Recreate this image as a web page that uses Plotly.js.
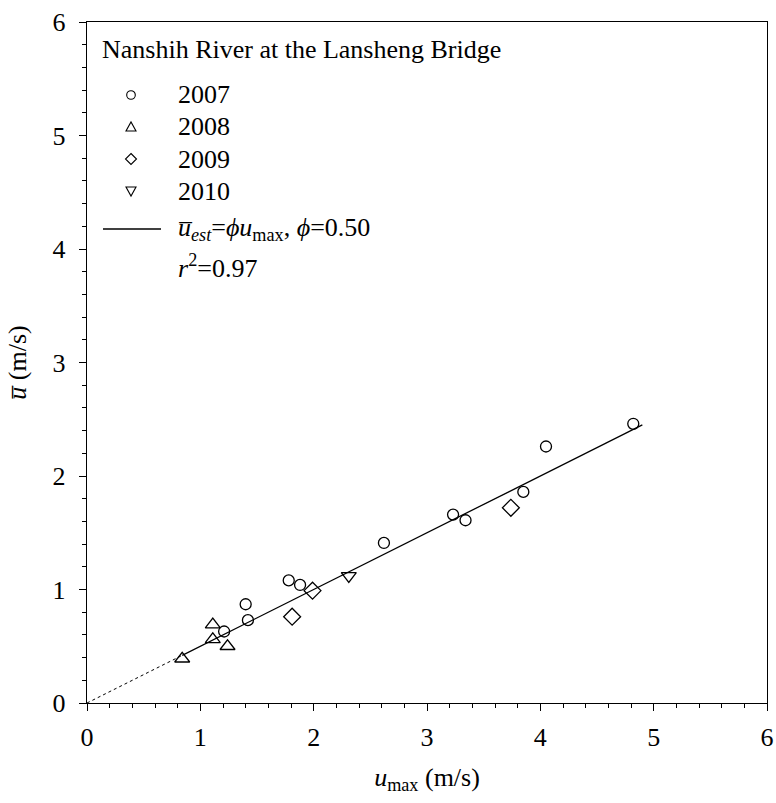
<!DOCTYPE html>
<html>
<head>
<meta charset="utf-8">
<script src="https://cdn.plot.ly/plotly-3.0.1.min.js"></script>
<style>html,body{margin:0;padding:0;background:#fff;}#chart{width:776px;height:803px;}</style>
</head>
<body>
<div id="chart"></div>
<script>
// ---- data ----
const series2007X = [1.21, 1.42, 1.40, 1.78, 1.88, 2.62, 3.23, 3.34, 3.85, 4.05, 4.82];
const series2007Y = [0.63, 0.73, 0.87, 1.08, 1.04, 1.41, 1.66, 1.61, 1.86, 2.26, 2.46];
const series2008X = [0.84, 1.11, 1.11, 1.24];
const series2008Y = [0.39, 0.69, 0.56, 0.50];
const series2009X = [1.81, 1.99, 3.74];
const series2009Y = [0.76, 0.99, 1.72];
const series2010X = [2.31];
const series2010Y = [1.12];
const fitSolidX = [0.84, 4.90];
const fitSolidY = [0.42, 2.45];
const fitDotX = [0.00, 0.84];
const fitDotY = [0.00, 0.42];
const legendYears = ['2007', '2008', '2009', '2010'];
const panelTitle = 'Nanshih River at the Lansheng Bridge';
const fitLabel = '<i>u\u0305</i><sub><i>est</i></sub>=<i>\u03d5u</i><sub>max</sub>, <i>\u03d5</i>=0.50';
const r2Label = '<i>r</i><sup>2</sup>=0.97';
const xTitle = '<i>u</i><sub>max</sub> (m/s)';
const yTitle = '<i>u\u0305</i> (m/s)';

// ---- layout geometry (pixels) ----
const W = 776, H = 803, ML = 87, MR = 9, MT = 22, MB = 100;
const PW = W - ML - MR, PH = H - MT - MB;
const px = p => (p - ML) / PW;           // pixel x -> paper
const py = p => (H - MB - p) / PH;       // pixel y -> paper
const FONT = '"Liberation Serif", "Times New Roman", Times, serif';

const mk = (sym, size) => ({symbol: sym, size: size, color: '#000', line: {color: '#000', width: 1.3}});

const traces = [
  {x: fitDotX, y: fitDotY, mode: 'lines', line: {color: '#000', width: 1, dash: 'dot'}, showlegend: false, hoverinfo: 'skip'},
  {x: fitSolidX, y: fitSolidY, mode: 'lines', line: {color: '#000', width: 1.3}, showlegend: false},
  {x: series2007X, y: series2007Y, mode: 'markers', marker: mk('circle-open', 11), showlegend: false},
  {x: series2008X, y: series2008Y, mode: 'markers', marker: mk('triangle-up-open', 13), showlegend: false},
  {x: series2009X, y: series2009Y, mode: 'markers', marker: mk('diamond-open', 13), showlegend: false},
  {x: series2010X, y: series2010Y, mode: 'markers', marker: mk('triangle-down-open', 13), showlegend: false}
];

// ---- hand-made legend (shapes + annotations) ----
const symX = 131, rowY = [95, 127, 159, 191], textX = 178;
const shapes = [];
function pathFrom(pts) {
  return 'M' + pts.map(p => px(p[0]) + ',' + py(p[1])).join(' L') + ' Z';
}
const lw = {color: '#000', width: 1.1};
shapes.push({type: 'circle', xref: 'paper', yref: 'paper', x0: px(symX - 4.3), x1: px(symX + 4.3), y0: py(rowY[0] + 4.3), y1: py(rowY[0] - 4.3), line: lw});
shapes.push({type: 'path', xref: 'paper', yref: 'paper', path: pathFrom([[symX - 5, rowY[1] + 4], [symX + 5, rowY[1] + 4], [symX, rowY[1] - 5]]), line: lw});
shapes.push({type: 'path', xref: 'paper', yref: 'paper', path: pathFrom([[symX, rowY[2] - 5.5], [symX + 5.5, rowY[2]], [symX, rowY[2] + 5.5], [symX - 5.5, rowY[2]]]), line: lw});
shapes.push({type: 'path', xref: 'paper', yref: 'paper', path: pathFrom([[symX - 5, rowY[3] - 4], [symX + 5, rowY[3] - 4], [symX, rowY[3] + 5]]), line: lw});
shapes.push({type: 'line', xref: 'paper', yref: 'paper', x0: px(103), x1: px(161), y0: py(229), y1: py(229), line: {color: '#000', width: 1.3}});

const annotations = [];
const ann = (text, x, y) => ({text: text, xref: 'paper', yref: 'paper', x: px(x), y: py(y), xanchor: 'left', yanchor: 'middle', showarrow: false, font: {family: FONT, size: 26, color: '#000'}});
annotations.push(ann(panelTitle, 100, 50));
legendYears.forEach((t, i) => annotations.push(ann(t, textX - 2, rowY[i])));
annotations.push(ann(fitLabel, textX - 2, 229));
annotations.push(ann(r2Label, textX - 2, 266));

const axisBase = {
  range: [0, 6], dtick: 1, tick0: 0, ticks: 'outside', ticklen: 7, tickwidth: 1, tickcolor: '#000',
  minor: {dtick: 0.2, ticks: 'outside', ticklen: 4, tickwidth: 1, tickcolor: '#000'},
  showline: true, linecolor: '#000', linewidth: 1.2, mirror: true,
  showgrid: false, zeroline: false, fixedrange: true,
  tickfont: {family: FONT, size: 26, color: '#000'}
};

const layout = {
  width: W, height: H,
  margin: {l: ML, r: MR, t: MT, b: MB, pad: 0},
  paper_bgcolor: '#fff', plot_bgcolor: '#fff',
  showlegend: false,
  font: {family: FONT, color: '#000'},
  xaxis: Object.assign({}, axisBase, {ticklabelstandoff: 4, title: {text: xTitle, font: {family: FONT, size: 26, color: '#000'}, standoff: 16}}),
  yaxis: Object.assign({}, axisBase, {ticklabelstandoff: 8, title: {text: yTitle, font: {family: FONT, size: 26, color: '#000'}, standoff: 18}}),
  shapes: shapes,
  annotations: annotations
};

Plotly.newPlot('chart', traces, layout, {displayModeBar: false, staticPlot: true});
</script>
</body>
</html>
